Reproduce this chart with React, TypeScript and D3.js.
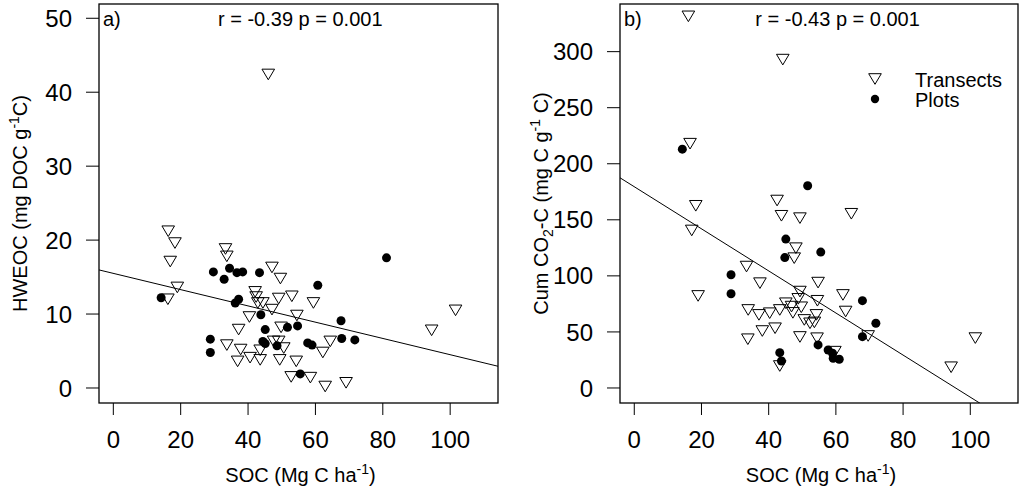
import React, { useEffect, useRef } from 'react';
import * as d3 from 'd3';

// panel a) HWEOC vs SOC
const transectsA_soc = [16.3, 18.3, 16.9, 19.0, 16.2, 33.3, 33.7, 47.1, 49.6, 42.1, 42.4, 49.1, 53.0, 59.4, 42.9, 44.4, 47.1, 40.4, 54.5, 37.2, 49.8, 33.7, 37.8, 43.6, 47.6, 49.1, 50.6, 62.2, 64.4, 36.9, 40.6, 43.6, 49.4, 54.3, 52.8, 58.5, 62.9, 69.1, 46.0, 94.5, 101.6];
const transectsA_hweoc = [21.2, 19.6, 17.1, 13.6, 12.0, 18.8, 17.8, 16.3, 14.8, 13.0, 12.3, 12.1, 12.4, 11.5, 11.5, 11.5, 10.6, 9.6, 9.8, 7.9, 8.2, 5.8, 5.2, 5.1, 6.3, 6.3, 5.4, 4.8, 6.3, 3.6, 4.1, 3.8, 3.8, 3.6, 1.5, 1.4, 0.2, 0.7, 42.4, 7.8, 10.5];
const plotsA_soc = [14.2, 29.7, 34.5, 32.9, 36.7, 38.4, 43.4, 36.2, 37.2, 60.7, 81.1, 43.8, 67.6, 45.1, 51.7, 54.7, 28.8, 44.4, 45.1, 48.6, 57.7, 59.0, 67.8, 71.7, 28.8, 55.5];
const plotsA_hweoc = [12.2, 15.7, 16.2, 14.7, 15.6, 15.7, 15.6, 11.5, 12.0, 13.9, 17.6, 9.9, 9.1, 7.9, 8.2, 8.4, 6.6, 6.3, 6.0, 5.7, 6.1, 5.8, 6.7, 6.5, 4.8, 1.9];

// panel b) cumulative CO2-C vs SOC
const transectsB_soc = [16.1, 44.2, 16.6, 18.3, 17.1, 19.0, 42.5, 43.8, 49.3, 64.6, 48.1, 47.6, 33.4, 37.4, 54.7, 49.3, 62.1, 69.6, 62.9, 33.9, 37.1, 40.3, 43.3, 45.1, 46.8, 48.8, 49.7, 47.2, 54.5, 50.6, 52.3, 54.2, 53.6, 38.1, 41.9, 33.8, 49.3, 54.4, 59.7, 43.3, 94.3, 101.5];
const transectsB_co2 = [331.5, 292.9, 217.9, 162.5, 140.5, 82.1, 167.2, 153.6, 151.5, 155.4, 124.7, 115.8, 108.3, 93.5, 94.0, 86.0, 83.0, 46.4, 68.2, 69.6, 65.2, 66.7, 69.6, 75.6, 72.6, 79.5, 72.0, 67.0, 77.8, 60.7, 57.7, 65.2, 58.5, 50.8, 53.3, 43.5, 45.5, 44.4, 32.4, 19.6, 18.5, 44.5];
const plotsB_soc = [14.3, 28.8, 28.8, 51.6, 45.1, 44.8, 55.5, 67.9, 71.9, 67.9, 54.7, 57.7, 59.2, 61.0, 59.0, 43.3, 43.8];
const plotsB_co2 = [213, 101, 84, 180.4, 132.8, 116.3, 121.2, 77.9, 57.7, 45.8, 38.4, 33.9, 26.5, 25.6, 31.0, 31.5, 24.1];

const xTicks = [0, 20, 40, 60, 80, 100];
const yTicksA = [0, 10, 20, 30, 40, 50];
const yTicksB = [0, 50, 100, 150, 200, 250, 300];

// fitted lines (intercept, slope)
const fitA = [15.5, -0.11];
const fitB = [179.5, -1.877];

const statsA = 'r = -0.39 p = 0.001';
const statsB = 'r = -0.43 p = 0.001';

const FONT = '"Liberation Sans", Arial, sans-serif';

const App: React.FC = () => {
  const ref = useRef<SVGSVGElement>(null);

  useEffect(() => {
    const svg = d3.select(ref.current);
    svg.selectAll('*').remove();

    const drawPanel = (opts: any) => {
      const { left, right, top, bottom, yDomain, yTicks, tSoc, tVal, pSoc, pVal, fit, tag, stats, statsX, id } = opts;
      const x = d3.scaleLinear().domain([-4.25, 114.2]).range([left, right]);
      const y = d3.scaleLinear().domain(yDomain).range([bottom, top]);

      svg.append('clipPath').attr('id', id)
        .append('rect').attr('x', left).attr('y', top)
        .attr('width', right - left).attr('height', bottom - top);

      // x axis
      const gx = svg.append('g');
      gx.selectAll('line').data(xTicks).enter().append('line')
        .attr('x1', d => x(d)).attr('x2', d => x(d))
        .attr('y1', bottom).attr('y2', bottom + 12)
        .attr('stroke', '#000').attr('stroke-width', 1);
      gx.selectAll('text').data(xTicks).enter().append('text')
        .attr('x', d => x(d)).attr('y', bottom + 45)
        .attr('text-anchor', 'middle')
        .attr('font-size', 24).attr('font-family', FONT)
        .text(d => d);

      // y axis
      const gy = svg.append('g');
      gy.selectAll('line').data(yTicks).enter().append('line')
        .attr('x1', left - 13).attr('x2', left)
        .attr('y1', d => y(d)).attr('y2', d => y(d))
        .attr('stroke', '#000').attr('stroke-width', 1);
      gy.selectAll('text').data(yTicks).enter().append('text')
        .attr('x', left - 27).attr('y', d => y(d) + 8.6)
        .attr('text-anchor', 'end')
        .attr('font-size', 24).attr('font-family', FONT)
        .text(d => d);

      // x title
      const xt = svg.append('text')
        .attr('x', (left + right) / 2 + 2).attr('y', 482)
        .attr('text-anchor', 'middle')
        .attr('font-size', 20).attr('font-family', FONT);
      xt.append('tspan').text('SOC (Mg C ha');
      xt.append('tspan').attr('font-size', 14).attr('dy', -8).text('-1');
      xt.append('tspan').attr('dy', 8).text(')');

      // regression line
      svg.append('line')
        .attr('clip-path', `url(#${id})`)
        .attr('x1', x(-4.25)).attr('y1', y(fit[0] + fit[1] * -4.25))
        .attr('x2', x(114.2)).attr('y2', y(fit[0] + fit[1] * 114.2))
        .attr('stroke', '#000').attr('stroke-width', 1);

      // transects: open down-triangles
      const tri = 'M-6.3,-5.3L6.3,-5.3L0,5.3Z';
      svg.append('g').selectAll('path').data(d3.range(tSoc.length)).enter().append('path')
        .attr('d', tri)
        .attr('transform', i => `translate(${x(tSoc[i])},${y(tVal[i])})`)
        .attr('fill', 'none').attr('stroke', '#000').attr('stroke-width', 1);

      // plots: filled circles
      svg.append('g').selectAll('circle').data(d3.range(pSoc.length)).enter().append('circle')
        .attr('cx', i => x(pSoc[i])).attr('cy', i => y(pVal[i]))
        .attr('r', 4.5).attr('fill', '#000');

      // box
      svg.append('rect')
        .attr('x', left).attr('y', top)
        .attr('width', right - left).attr('height', bottom - top)
        .attr('fill', 'none').attr('stroke', '#000').attr('stroke-width', 1.3);

      svg.append('text').attr('x', left + 4).attr('y', 26)
        .attr('font-size', 20).attr('font-family', FONT).text(tag);
      svg.append('text').attr('x', x(statsX)).attr('y', 26)
        .attr('text-anchor', 'middle')
        .attr('font-size', 20).attr('font-family', FONT).text(stats);

      return { x, y };
    };

    drawPanel({
      id: 'clipA', left: 99, right: 498, top: 4, bottom: 403,
      yDomain: [-2.03, 51.93], yTicks: yTicksA,
      tSoc: transectsA_soc, tVal: transectsA_hweoc, pSoc: plotsA_soc, pVal: plotsA_hweoc,
      fit: fitA, tag: 'a)', stats: statsA, statsX: 55.5,
    });
    drawPanel({
      id: 'clipB', left: 620, right: 1018, top: 4, bottom: 403,
      yDomain: [-13.4, 342.5], yTicks: yTicksB,
      tSoc: transectsB_soc, tVal: transectsB_co2, pSoc: plotsB_soc, pVal: plotsB_co2,
      fit: fitB, tag: 'b)', stats: statsB, statsX: 60.5,
    });

    // y titles
    const ya = svg.append('text')
      .attr('transform', 'translate(27,203.5) rotate(-90)')
      .attr('text-anchor', 'middle')
      .attr('font-size', 20).attr('font-family', FONT);
    ya.append('tspan').text('HWEOC (mg DOC g');
    ya.append('tspan').attr('font-size', 14).attr('dy', -8).text('-1');
    ya.append('tspan').attr('dy', 8).text('C)');

    const yb = svg.append('text')
      .attr('transform', 'translate(548,203.5) rotate(-90)')
      .attr('text-anchor', 'middle')
      .attr('font-size', 20).attr('font-family', FONT);
    yb.append('tspan').text('Cum CO');
    yb.append('tspan').attr('font-size', 14).attr('dy', 5).text('2');
    yb.append('tspan').attr('dy', -5).text('-C (mg C g');
    yb.append('tspan').attr('font-size', 14).attr('dy', -8).text('-1');
    yb.append('tspan').attr('dy', 8).text(' C)');

    // legend
    const lg = svg.append('g');
    lg.append('path').attr('d', 'M-6.3,-5.3L6.3,-5.3L0,5.3Z')
      .attr('transform', 'translate(875,79)')
      .attr('fill', 'none').attr('stroke', '#000').attr('stroke-width', 1);
    lg.append('circle').attr('cx', 875).attr('cy', 99).attr('r', 4.2).attr('fill', '#000');
    lg.append('text').attr('x', 915).attr('y', 87)
      .attr('font-size', 20).attr('font-family', FONT).text('Transects');
    lg.append('text').attr('x', 915).attr('y', 107)
      .attr('font-size', 20).attr('font-family', FONT).text('Plots');
  }, []);

  return (
    <svg ref={ref} width={1024} height={489}
      style={{ position: 'absolute', left: 0, top: 0, background: '#fff' }} />
  );
};

export default App;
